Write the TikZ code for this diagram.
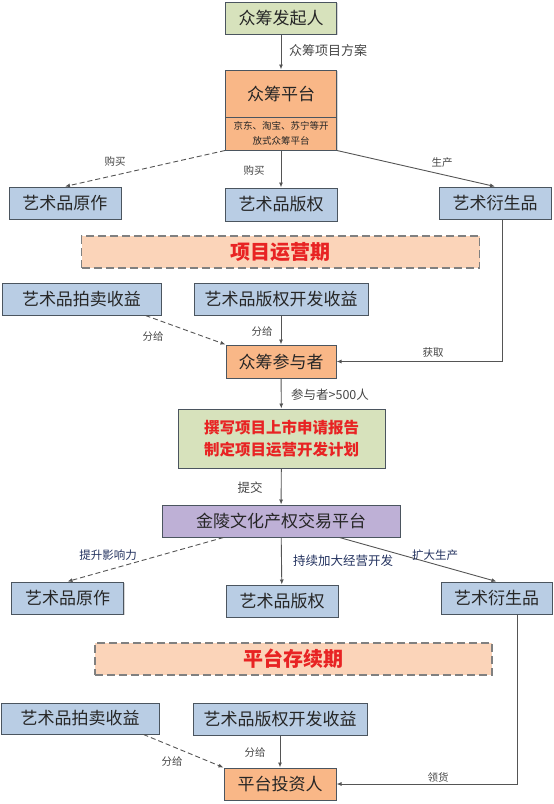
\documentclass[tikz,border=0pt]{standalone}
\usepackage{fontspec}
\setmainfont{Noto Sans CJK SC}
\usetikzlibrary{arrows.meta,shadows}

\definecolor{boxline}{RGB}{75,85,95}
\definecolor{boxblue}{RGB}{185,205,228}
\definecolor{boxorange}{RGB}{249,183,135}
\definecolor{boxgreen}{RGB}{215,226,188}
\definecolor{boxpurple}{RGB}{190,176,214}
\definecolor{phasefill}{RGB}{251,212,185}
\definecolor{phasered}{RGB}{232,35,35}
\definecolor{arrowgray}{RGB}{85,85,85}
\definecolor{labelgray}{RGB}{70,70,70}
\definecolor{labelblue}{RGB}{35,50,95}

\tikzset{
  box/.style={draw=boxline, line width=1pt, inner sep=0pt, text=black!85,
    font=\fontsize{17}{20}\selectfont, minimum height=32pt,
    drop shadow={shadow xshift=1.2pt, shadow yshift=-1.2pt, fill=black!40, opacity=0.4}},
  bluebox/.style={box, fill=boxblue},
  orangebox/.style={box, fill=boxorange},
  greenbox/.style={box, fill=boxgreen},
  purplebox/.style={box, fill=boxpurple},
  phase/.style={draw=black!50, line width=1.2pt, dash pattern=on 8pt off 4pt,
    fill=phasefill, minimum width=398pt, minimum height=32pt, inner sep=0pt,
    text=phasered, font=\fontsize{20}{22}\selectfont\bfseries},
  arrow/.style={draw=arrowgray, line width=0.9pt, -{Latex[length=5pt,width=4pt]}},
  dashline/.style={dash pattern=on 5pt off 3pt},
  lbl/.style={text=labelgray, inner sep=1pt, font=\fontsize{10.5}{12}\selectfont},
  bluelbl/.style={text=labelblue, inner sep=1pt, font=\fontsize{11.5}{13}\selectfont}
}

\begin{document}
\begin{tikzpicture}[x=1pt, y=-1pt]
\useasboundingbox (0,0) rectangle (554,804);

% Initiator and platform
\node[greenbox, minimum width=111pt] (initiator) at (281,18) {众筹发起人};
\node[orangebox, minimum width=111pt, minimum height=47pt] (platform) at (281,93.5) {众筹平台};
\node[orangebox, minimum width=111pt, minimum height=33pt, align=center,
  font=\fontsize{9.5}{15}\selectfont] (platformsub) at (281,133.5)
  {京东、淘宝、苏宁等开\\放式众筹平台};

% First row of products
\node[bluebox, minimum width=112pt] (orig1) at (65,203) {艺术品原作};
\node[bluebox, minimum width=112pt, minimum height=33pt] (copy1) at (281,204.5) {艺术品版权};
\node[bluebox, minimum width=112pt] (deriv1) at (495,203) {艺术衍生品};

% Operating phase
\node[phase] (phase1) at (280.5,252) {项目运营期};

% Revenues and participants
\node[bluebox, minimum width=159pt] (auction1) at (81.5,299) {艺术品拍卖收益};
\node[bluebox, minimum width=174pt] (develop1) at (281,299) {艺术品版权开发收益};
\node[orangebox, minimum width=110pt, minimum height=33pt] (participant) at (281,361.5) {众筹参与者};

% Report
\node[greenbox, minimum width=207pt, minimum height=59pt, align=center, text=phasered,
  font=\fontsize{15.5}{21.5}\selectfont\bfseries] (report) at (281.5,438.5)
  {撰写项目上市申请报告\\制定项目运营开发计划};

% Exchange
\node[purplebox, minimum width=238pt] (exchange) at (281,521) {金陵文化产权交易平台};

% Second row of products
\node[bluebox, minimum width=112pt] (orig2) at (67.5,598) {艺术品原作};
\node[bluebox, minimum width=112pt] (copy2) at (282,601) {艺术品版权};
\node[bluebox, minimum width=111pt] (deriv2) at (496.5,598) {艺术衍生品};

% Lasting phase
\node[phase, minimum width=397pt] (phase2) at (293.5,659) {平台存续期};

% Revenues and investors
\node[bluebox, minimum width=158pt, minimum height=31pt] (auction2) at (80,718.5) {艺术品拍卖收益};
\node[bluebox, minimum width=174pt] (develop2) at (280,719) {艺术品版权开发收益};
\node[orangebox, minimum width=112pt] (investor) at (280,784) {平台投资人};

% Connectors, first stage
\draw[arrow] (initiator) -- (platform);
\draw[arrow, dashline] (platformsub.south west) -- (orig1.north);
\draw[arrow] (platformsub) -- (copy1);
\draw[arrow] (platformsub.south east) -- (deriv1.north);
\draw[arrow, dashline] ([xshift=-16pt]auction1.south east) -- (participant.north west);
\draw[arrow] (develop1) -- (participant);
\draw[arrow] ([xshift=7pt]deriv1.south) |- (participant.east);
\draw[arrow] (participant) -- (report);
\draw[arrow] (report) -- (exchange);

% Connectors, second stage
\draw[arrow, dashline] ([xshift=62pt]exchange.south west) -- (orig2.north);
\draw[arrow] (exchange) -- (copy2);
\draw[arrow] ([xshift=-61pt]exchange.south east) -- (deriv2.north);
\draw[arrow, dashline] ([xshift=-16pt]auction2.south east) -- (investor.north west);
\draw[arrow] (develop2) -- (investor);
\draw[arrow] ([xshift=21pt]deriv2.south) |- (investor.east);

% Labels
\node[lbl, font=\fontsize{13}{15}\selectfont] (lplan) at (328,51) {众筹项目方案};
\node[lbl] (lbuy1) at (115,162) {购买};
\node[lbl] (lbuy2) at (254,171) {购买};
\node[lbl] (lmake1) at (442,163) {生产};
\node[lbl] (lshare1) at (153,337) {分给};
\node[lbl] (lshare2) at (262,332) {分给};
\node[lbl] (lget) at (433,353) {获取};
\node[lbl, font=\fontsize{12.5}{14}\selectfont] (lcount) at (330,395) {参与者>500人};
\node[lbl, font=\fontsize{12.5}{14}\selectfont] (lsubmit) at (250,488) {提交};
\node[bluelbl] (lboost) at (108,555) {提升影响力};
\node[bluelbl, font=\fontsize{12.5}{14}\selectfont] (lexpand) at (343,561) {持续加大经营开发};
\node[bluelbl] (lmake2) at (435,555) {扩大生产};
\node[lbl] (lshare3) at (172,762) {分给};
\node[lbl] (lshare4) at (255,753) {分给};
\node[lbl] (lreceive) at (438,777) {领货};

\end{tikzpicture}
\end{document}
